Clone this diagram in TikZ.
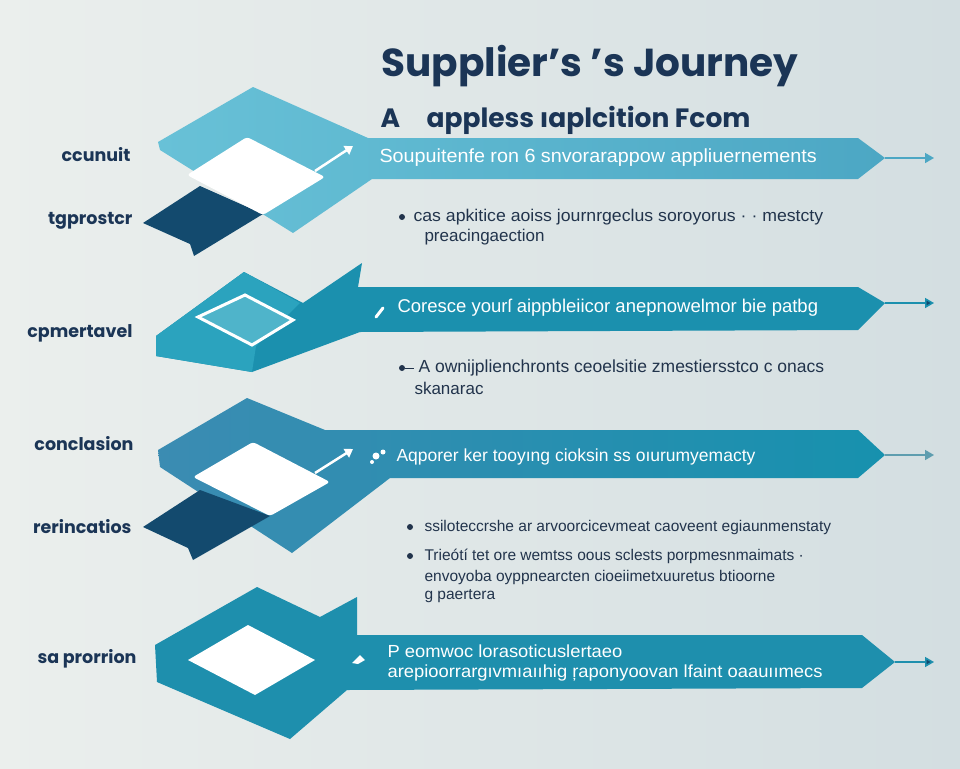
\documentclass[tikz,border=0pt]{standalone}
\usepackage{fontspec}
\setmainfont{Liberation Sans}
\newfontfamily\headfont{Poppins}
\usetikzlibrary{arrows.meta}
\definecolor{navy}{HTML}{1B3556}
\definecolor{bodytext}{HTML}{22344C}
\definecolor{bgleft}{HTML}{EBEFED}
\definecolor{bgright}{HTML}{D3DEE1}
\definecolor{ribbon}{HTML}{134A6E}
\definecolor{bandA}{HTML}{68C1D7}
\definecolor{bandAr}{HTML}{4CA7C4}
\definecolor{bandB}{HTML}{1B90AE}
\definecolor{bandBl}{HTML}{2BA3BE}
\definecolor{bandC}{HTML}{3B8CB2}
\definecolor{bandCr}{HTML}{1791AE}
\definecolor{bandD}{HTML}{1E8FAD}
\definecolor{arrowC}{HTML}{5E9DAF}
\definecolor{diamondfill}{HTML}{4FB4CA}
\tikzset{
  sidelabel/.style={anchor=east,font=\headfont\bfseries\fontsize{17.5}{20}\selectfont,text=navy},
  bandtext/.style={anchor=west,font=\fontsize{19}{22}\selectfont,text=white},
  bullettext/.style={anchor=west,font=\fontsize{17}{20}\selectfont,text=bodytext},
  dot/.style={circle,fill=bodytext,inner sep=0pt,minimum size=6pt},
  tiparrow/.style={line width=1.6pt,-{Triangle[length=9pt,width=10pt]}},
  whitearrow/.style={white,line width=2.5pt,-{Triangle[length=8pt,width=10pt]}}
}
\begin{document}
\begin{tikzpicture}[x=1pt,y=-1pt]
\shade[left color=bgleft,right color=bgright] (0,0) rectangle (960,768);
\useasboundingbox (0,0) rectangle (960,768);
% title
\node[font=\headfont\bfseries\fontsize{39}{42}\selectfont,text=navy] (title) at (590,66) {Supplier’s ’s Journey};
\node[anchor=west,font=\headfont\bfseries\fontsize{26.5}{28}\selectfont,text=navy] (subtitle) at (377,120) {A\quad appless ıaplcition Fcom};
% row 1
\shade[left color=bandA,right color=bandAr] (158,142) -- (253,87) -- (368,138) -- (858,138) -- (885,158) -- (858,179) -- (372,179) -- (293,233) -- (160,150) -- cycle;
\fill[ribbon] (143,223) -- (200,186) -- (263,214) -- (194,256) -- (190,244) -- cycle;
\fill[white,rounded corners=3pt] (247,137) -- (325,177) -- (263,215) -- (187,175) -- cycle;
\coordinate (a1s) at (315,171); \coordinate (a1e) at (353,146);
\draw[whitearrow] (a1s) -- (a1e);
\coordinate (tip1) at (885,158); \coordinate (end1) at (934,158);
\draw[tiparrow,draw=bandAr,-{Triangle[length=9pt,width=10pt,fill=bandAr]}] (tip1) -- (end1);
\node[sidelabel] (lab1) at (134,155) {ccunuit};
\node[sidelabel] (lab2) at (136,221) {tgprostcr};
\node[bandtext,font=\fontsize{19}{22}\selectfont\addfontfeature{FakeStretch=1.04}] (band1) at (376,158) {Soupuitenfe ron 6 snvorarappow appliuernements};
\node[dot] (b1) at (402,217) {};
\node[bullettext,font=\fontsize{17}{20}\selectfont\addfontfeature{FakeStretch=1.04}] (t1) at (410,217) {cas apkitice aoiss journrgeclus soroyorus · · mestcty};
\node[bullettext] (t1b) at (421,237) {preacingaection};
% row 2
\fill[bandB] (156,336) -- (244,272) -- (303,303) -- (362,263) -- (358,287) -- (858,287) -- (885,303) -- (858,330) -- (360,332) -- (252,372) -- (156,356) -- cycle;
\fill[bandBl] (156,336) -- (244,272) -- (300,303) -- (256,346) -- (252,372) -- (156,356) -- cycle;
\draw[white,line width=3pt,fill=diamondfill] (198,317) -- (245,295) -- (293,320) -- (252,345) -- cycle;
\draw[white,line width=3pt,line cap=round] (376,317) -- (383,308);
\coordinate (tip2) at (885,303); \coordinate (end2) at (934,303);
\draw[tiparrow,draw=bandB,-{Triangle[length=9pt,width=10pt,fill=ribbon]}] (tip2) -- (end2);
\node[sidelabel] (lab3) at (136,333) {cpmertavel};
\node[bandtext,font=\fontsize{18.5}{22}\selectfont] (band2) at (394,308) {Coresce yourſ aippbleiicor anepnowelmor bie patbg};
\node[dot] (b2) at (402,368) {};
\draw[bodytext,line width=1pt] (b2) -- ++(12,0) coordinate (d2);
\node[bullettext,font=\fontsize{17.5}{20}\selectfont] (t2) at (415,368) {A ownijplienchronts ceoelsitie zmestiersstco c onacs};
\node[bullettext] (t2b) at (411,388) {skanarac};
% row 3
\shade[left color=bandC,right color=bandCr] (158,450) -- (247,398) -- (325,430) -- (858,430) -- (885,455) -- (858,478) -- (390,478) -- (292,553) -- (160,467) -- cycle;
\fill[ribbon] (143,527) -- (200,490) -- (270,516) -- (193,560) -- (188,548) -- cycle;
\fill[white,rounded corners=3pt] (253,442) -- (330,482) -- (270,516) -- (193,477) -- cycle;
\coordinate (a3s) at (315,473); \coordinate (a3e) at (353,449);
\draw[whitearrow] (a3s) -- (a3e);
\fill[white] (376,456) circle (3.5pt) (383,452) circle (2.5pt) (372,462) circle (2pt);
\coordinate (tip3) at (885,455); \coordinate (end3) at (934,455);
\draw[tiparrow,draw=arrowC,-{Triangle[length=9pt,width=10pt,fill=arrowC]}] (tip3) -- (end3);
\node[sidelabel] (lab4) at (137,444) {conclasion};
\node[sidelabel] (lab5) at (135,527) {rerincatios};
\node[bandtext,font=\fontsize{17.5}{22}\selectfont] (band3) at (393,457) {Aqporer ker tooyıng cioksin ss oıurumyemacty};
\node[dot] (b3) at (410,527) {};
\node[bullettext,font=\fontsize{15.5}{18}\selectfont] (t3) at (421,527) {ssiloteccrshe ar arvoorcicevmeat caoveent egiaunmenstaty};
\node[dot] (b4) at (410,556) {};
\node[bullettext,font=\fontsize{15.5}{18}\selectfont] (t4) at (421,556) {Trieótí tet ore wemtss oous sclests porpmesnmaimats ·};
\node[bullettext,font=\fontsize{15.5}{18}\selectfont] (t4b) at (421,577) {envoyoba oyppnearcten cioeiimetxuuretus btioorne};
\node[bullettext,font=\fontsize{15.5}{18}\selectfont] (t4c) at (421,596) {g paertera};
% row 4
\fill[bandD] (155,645) -- (257,587) -- (320,617) -- (357,597) -- (357,635) -- (862,635) -- (895,662) -- (862,688) -- (347,690) -- (290,739) -- (157,682) -- cycle;
\fill[white] (248,625) -- (315,660) -- (255,695) -- (188,660) -- cycle;
\fill[white] (352,663) -- (360,655) -- (365,660) -- (358,664) -- cycle;
\coordinate (tip4) at (895,662); \coordinate (end4) at (934,662);
\draw[tiparrow,draw=bandD,-{Triangle[length=9pt,width=10pt,fill=ribbon]}] (tip4) -- (end4);
\node[sidelabel] (lab6) at (140,659) {sa prorrion};
\node[bandtext,font=\fontsize{17.5}{20}\selectfont\addfontfeature{FakeStretch=1.05}] (band4a) at (384,651) {P eomwoc lorasoticuslertaeo};
\node[bandtext,font=\fontsize{17.5}{20}\selectfont\addfontfeature{FakeStretch=1.05}] (band4b) at (384,673) {arepioorrargıvmıaııhig ŗaponyoovan lfaint oaauıımecs};
\end{tikzpicture}
\end{document}
